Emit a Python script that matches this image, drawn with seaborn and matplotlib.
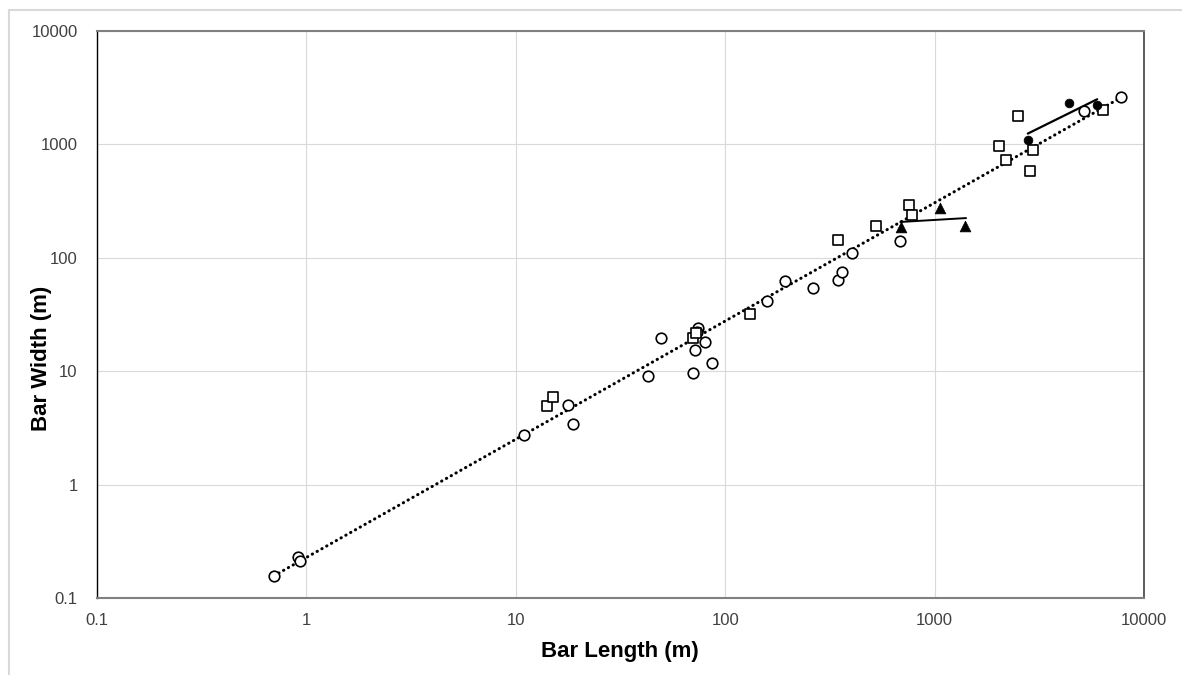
import matplotlib
matplotlib.use("Agg")
import matplotlib.pyplot as plt
import seaborn as sns
import numpy as np
from matplotlib.patches import Rectangle

# data (metres)
circle_len = [0.70, 0.91, 0.93, 10.9, 17.8, 18.8, 42.8, 49.6, 70.5, 72.1, 74.2, 73.5,
              79.9, 86.6, 158, 193, 264, 345, 363, 405, 686, 5197, 7800]
circle_wid = [0.157, 0.228, 0.213, 2.75, 5.05, 3.45, 9.1, 19.8, 9.6, 15.5, 24.2, 22.3,
              18.2, 11.9, 42, 62, 54.5, 64, 75, 110, 140, 1960, 2606]

square_len = [14.1, 15.1, 69.8, 72.3, 131.5, 344, 525, 757, 778, 2033, 2194, 2496,
              2869, 2951, 6383]
square_wid = [4.98, 5.9, 19.7, 21.8, 31.7, 144.5, 190, 294, 237, 975, 724, 1796,
              582, 887, 2000]

tri_len = [691, 1057, 1403]
tri_wid = [187, 277, 190]

dot_len = [2786, 4375, 5975]
dot_wid = [1087, 2319, 2245]

# trend lines (end points)
trend_len = [0.70, 7800]
trend_wid = [0.157, 2600]
dot_fit_len = [2786, 5975]
dot_fit_wid = [1245, 2500]
tri_fit_len = [686, 1413]
tri_fit_wid = [207, 224]

ticks = [0.1, 1, 10, 100, 1000, 10000]
tick_labels = ['0.1', '1', '10', '100', '1000', '10000']

sns.set_style("white")
plt.rcParams['font.family'] = ['Liberation Sans', 'DejaVu Sans']

fig = plt.figure(figsize=(11.82, 6.75), dpi=100)
ax = fig.add_axes([97/1182, 1-598/675, (1144-97)/1182, (598-31)/675])

# outer chart border
fig.patches.append(Rectangle((9/1182, -0.05), 1.1, 1-10/675+0.05, transform=fig.transFigure,
                             fill=False, edgecolor='#d9d9d9', lw=1.5, clip_on=False))

ax.set_xscale('log')
ax.set_yscale('log')
ax.set_xlim(0.1, 10000)
ax.set_ylim(0.1, 10000)

# lines
sns.lineplot(x=trend_len, y=trend_wid, ax=ax, color='black', lw=2.2, sort=False,
             linestyle=(0, (0.1, 1.7)), dash_capstyle='round', zorder=2)
sns.lineplot(x=dot_fit_len, y=dot_fit_wid, ax=ax, color='black', lw=1.6, sort=False, zorder=2)
sns.lineplot(x=tri_fit_len, y=tri_fit_wid, ax=ax, color='black', lw=1.4, sort=False, zorder=2)

# points
sns.scatterplot(x=circle_len, y=circle_wid, ax=ax, marker='o', s=58,
                facecolor='white', edgecolor='black', linewidth=1.2, zorder=3)
sns.scatterplot(x=square_len, y=square_wid, ax=ax, marker='s', s=62,
                facecolor='white', edgecolor='black', linewidth=1.2, zorder=3)
sns.scatterplot(x=tri_len, y=tri_wid, ax=ax, marker='^', s=60,
                color='black', edgecolor='black', linewidth=0.5, zorder=4)
sns.scatterplot(x=dot_len, y=dot_wid, ax=ax, marker='o', s=40,
                color='black', edgecolor='black', linewidth=0.5, zorder=4)

ax.set_xticks(ticks)
ax.set_xticklabels(tick_labels)
ax.set_yticks(ticks)
ax.set_yticklabels(tick_labels)
ax.minorticks_off()
ax.tick_params(axis='both', length=0, labelsize=12, labelcolor='#404040')
ax.tick_params(axis='x', pad=11)
ax.tick_params(axis='y', pad=14)

ax.grid(True, which='major', color='#d9d9d9', lw=0.8)
ax.set_axisbelow(True)

ax.spines['left'].set_color('black')
ax.spines['left'].set_linewidth(1.0)
ax.spines['right'].set_color('#404040')
ax.spines['right'].set_linewidth(1.2)
ax.spines['top'].set_color('#808080')
ax.spines['top'].set_linewidth(1.5)
ax.spines['bottom'].set_color('#808080')
ax.spines['bottom'].set_linewidth(1.5)

fig.text(620/1182, 1-652/675, 'Bar Length (m)', ha='center', va='center',
         fontsize=16, fontweight='bold', color='black')
fig.text(42/1182, 1-358/675, 'Bar Width (m)', ha='center', va='center', rotation=90,
         fontsize=16, fontweight='bold', color='black')

fig.savefig('out.png', dpi=100)
